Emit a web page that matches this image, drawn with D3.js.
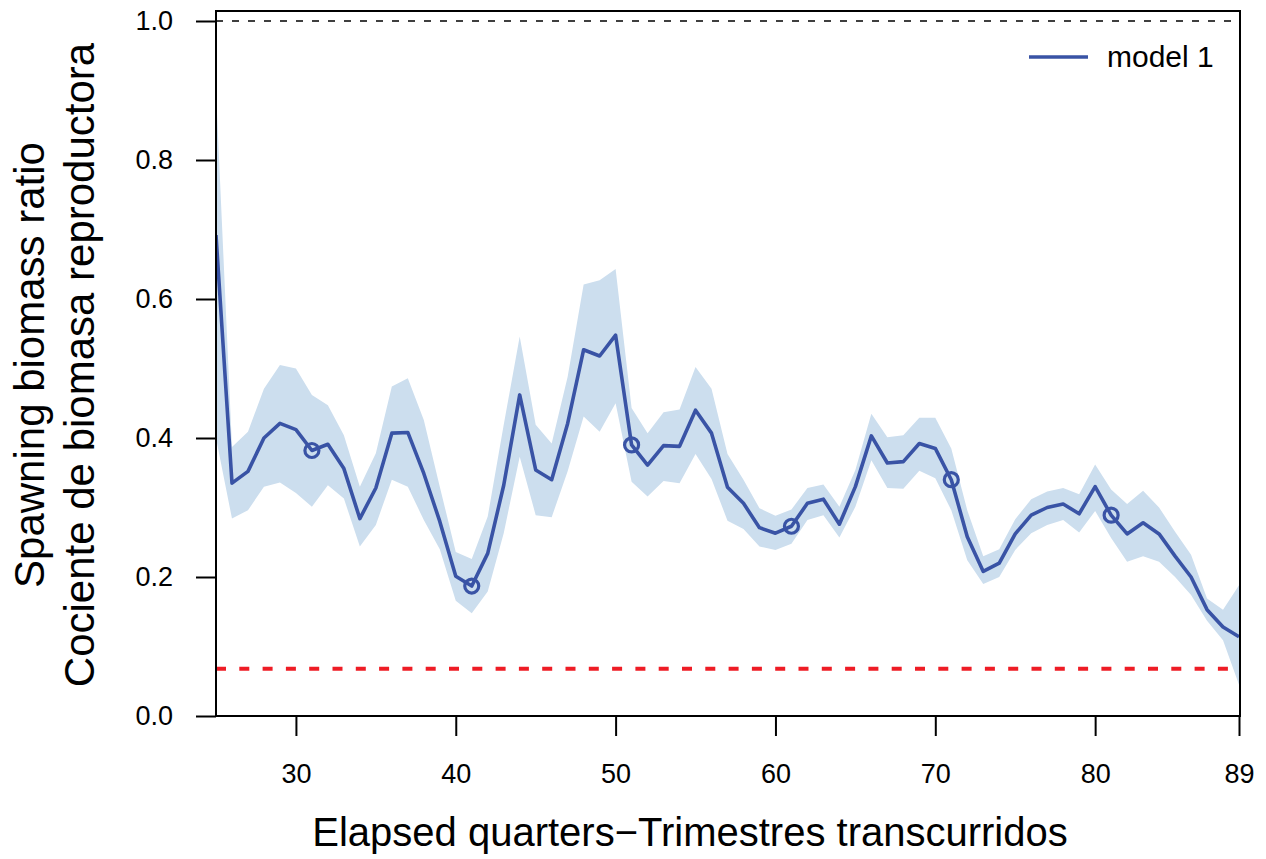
<!DOCTYPE html>
<html>
<head>
<meta charset="utf-8">
<script src="https://cdn.jsdelivr.net/npm/d3@7"></script>
<style>
  html, body { margin: 0; padding: 0; background: #fff; }
  svg { display: block; }
  text { font-family: "Liberation Sans", Arial, Helvetica, sans-serif; fill: #000; }
</style>
</head>
<body>
<svg id="chart" width="1266" height="859"></svg>
<script>
// ---- data ----
const quarters = d3.range(25, 90);
const sbr = [0.692, 0.335, 0.352, 0.400, 0.421, 0.412, 0.382, 0.391, 0.356, 0.284,
             0.328, 0.407, 0.408, 0.349, 0.280, 0.201, 0.187, 0.234, 0.332, 0.462,
             0.354, 0.340, 0.421, 0.527, 0.518, 0.548, 0.390, 0.361, 0.389, 0.388,
             0.440, 0.407, 0.329, 0.306, 0.271, 0.263, 0.273, 0.306, 0.312, 0.276,
             0.330, 0.403, 0.364, 0.366, 0.392, 0.385, 0.340, 0.258, 0.208, 0.220,
             0.262, 0.289, 0.300, 0.305, 0.291, 0.330, 0.289, 0.262, 0.278, 0.262,
             0.230, 0.200, 0.153, 0.128, 0.114];
const upper = [0.900, 0.387, 0.409, 0.471, 0.505, 0.500, 0.462, 0.447, 0.404, 0.330,
               0.378, 0.474, 0.486, 0.426, 0.330, 0.236, 0.226, 0.287, 0.419, 0.546,
               0.419, 0.392, 0.488, 0.621, 0.627, 0.643, 0.443, 0.407, 0.437, 0.441,
               0.502, 0.471, 0.377, 0.340, 0.299, 0.288, 0.297, 0.328, 0.333, 0.301,
               0.354, 0.435, 0.401, 0.404, 0.429, 0.429, 0.385, 0.296, 0.230, 0.240,
               0.283, 0.312, 0.323, 0.328, 0.319, 0.362, 0.326, 0.305, 0.324, 0.300,
               0.265, 0.232, 0.169, 0.153, 0.188];
const lower = [0.400, 0.284, 0.296, 0.330, 0.336, 0.321, 0.301, 0.332, 0.313, 0.244,
               0.275, 0.340, 0.330, 0.282, 0.240, 0.166, 0.148, 0.179, 0.263, 0.373,
               0.289, 0.286, 0.352, 0.431, 0.409, 0.450, 0.337, 0.316, 0.338, 0.335,
               0.377, 0.341, 0.281, 0.269, 0.244, 0.239, 0.248, 0.282, 0.289, 0.257,
               0.301, 0.368, 0.328, 0.327, 0.353, 0.342, 0.296, 0.224, 0.190, 0.200,
               0.239, 0.263, 0.275, 0.282, 0.264, 0.295, 0.256, 0.222, 0.230, 0.222,
               0.200, 0.174, 0.137, 0.109, 0.045];
const markerQuarters = [31, 41, 51, 61, 71, 81];
const xTicks = [30, 40, 50, 60, 70, 80, 89];
const yTicks = [0.0, 0.2, 0.4, 0.6, 0.8, 1.0];
const refLine = 1.0;
const limitLine = 0.068;
const seriesName = "model 1";
const xTitle = "Elapsed quarters\u2212Trimestres transcurridos";
const yTitle1 = "Spawning biomass ratio";
const yTitle2 = "Cociente de biomasa reproductora";

// ---- layout ----
const box = { left: 216, right: 1240, top: 11, bottom: 716 };
const x = d3.scaleLinear().domain([25, 89]).range([216, 1239]);
const y = d3.scaleLinear().domain([0, 1]).range([716, 21]);

const lineColor = "#3953a5";
const bandColor = "#ccdeee";

const svg = d3.select("#chart");
const data = quarters.map((q, i) => ({ q, v: sbr[i], hi: upper[i], lo: lower[i] }));

svg.append("defs").append("clipPath").attr("id", "plotclip")
  .append("rect").attr("x", box.left).attr("y", box.top)
  .attr("width", box.right - box.left).attr("height", box.bottom - box.top);

const plot = svg.append("g").attr("clip-path", "url(#plotclip)");

// band
plot.append("path").datum(data)
  .attr("d", d3.area().x(d => x(d.q)).y0(d => y(d.lo)).y1(d => y(d.hi)))
  .attr("fill", bandColor).attr("stroke", "none");

// reference lines
plot.append("line")
  .attr("x1", box.left).attr("x2", box.right)
  .attr("y1", y(refLine)).attr("y2", y(refLine))
  .attr("stroke", "#000").attr("stroke-width", 1.5).attr("stroke-dasharray", "7,9");

plot.append("line")
  .attr("x1", box.left).attr("x2", box.right)
  .attr("y1", y(limitLine)).attr("y2", y(limitLine))
  .attr("stroke", "#ee1c25").attr("stroke-width", 4).attr("stroke-dasharray", "10,13.3");

// main line
plot.append("path").datum(data)
  .attr("d", d3.line().x(d => x(d.q)).y(d => y(d.v)))
  .attr("fill", "none").attr("stroke", lineColor).attr("stroke-width", 3.6)
  .attr("stroke-linejoin", "round");

// markers
plot.selectAll("circle.mk").data(data.filter(d => markerQuarters.includes(d.q)))
  .join("circle").attr("class", "mk")
  .attr("cx", d => x(d.q)).attr("cy", d => y(d.v)).attr("r", 7)
  .attr("fill", "none").attr("stroke", lineColor).attr("stroke-width", 3.2);

// box
svg.append("rect")
  .attr("x", box.left).attr("y", box.top)
  .attr("width", box.right - box.left).attr("height", box.bottom - box.top)
  .attr("fill", "none").attr("stroke", "#000").attr("stroke-width", 2);

// axes
const xAxis = d3.axisBottom(x).tickValues(xTicks).tickSize(20).tickPadding(28)
  .tickFormat(d3.format("d"));
const gx = svg.append("g").attr("transform", `translate(0,${box.bottom})`).call(xAxis);
gx.select(".domain").remove();
gx.selectAll(".tick line").attr("stroke", "#000").attr("stroke-width", 2);
gx.selectAll(".tick text").attr("font-size", 27).attr("font-family", "Liberation Sans, Arial, sans-serif").attr("fill", "#000");

const yAxis = d3.axisLeft(y).tickValues(yTicks).tickSize(20).tickPadding(23)
  .tickFormat(d3.format(".1f"));
const gy = svg.append("g").attr("transform", `translate(${box.left},0)`).call(yAxis);
gy.select(".domain").remove();
gy.selectAll(".tick line").attr("stroke", "#000").attr("stroke-width", 2);
gy.selectAll(".tick text").attr("font-size", 27).attr("font-family", "Liberation Sans, Arial, sans-serif").attr("fill", "#000");

// titles
svg.append("text").attr("x", 690).attr("y", 846)
  .attr("text-anchor", "middle").attr("font-size", 40).text(xTitle);

const cy = 365;
svg.append("text").attr("transform", `translate(44,${cy}) rotate(-90)`)
  .attr("text-anchor", "middle").attr("font-size", 42).text(yTitle1);
svg.append("text").attr("transform", `translate(94,${cy}) rotate(-90)`)
  .attr("text-anchor", "middle").attr("font-size", 42).text(yTitle2);

// legend
svg.append("line").attr("x1", 1029).attr("x2", 1088).attr("y1", 57).attr("y2", 57)
  .attr("stroke", lineColor).attr("stroke-width", 3.5);
svg.append("text").attr("x", 1107).attr("y", 67).attr("font-size", 30).text(seriesName);
</script>
</body>
</html>
